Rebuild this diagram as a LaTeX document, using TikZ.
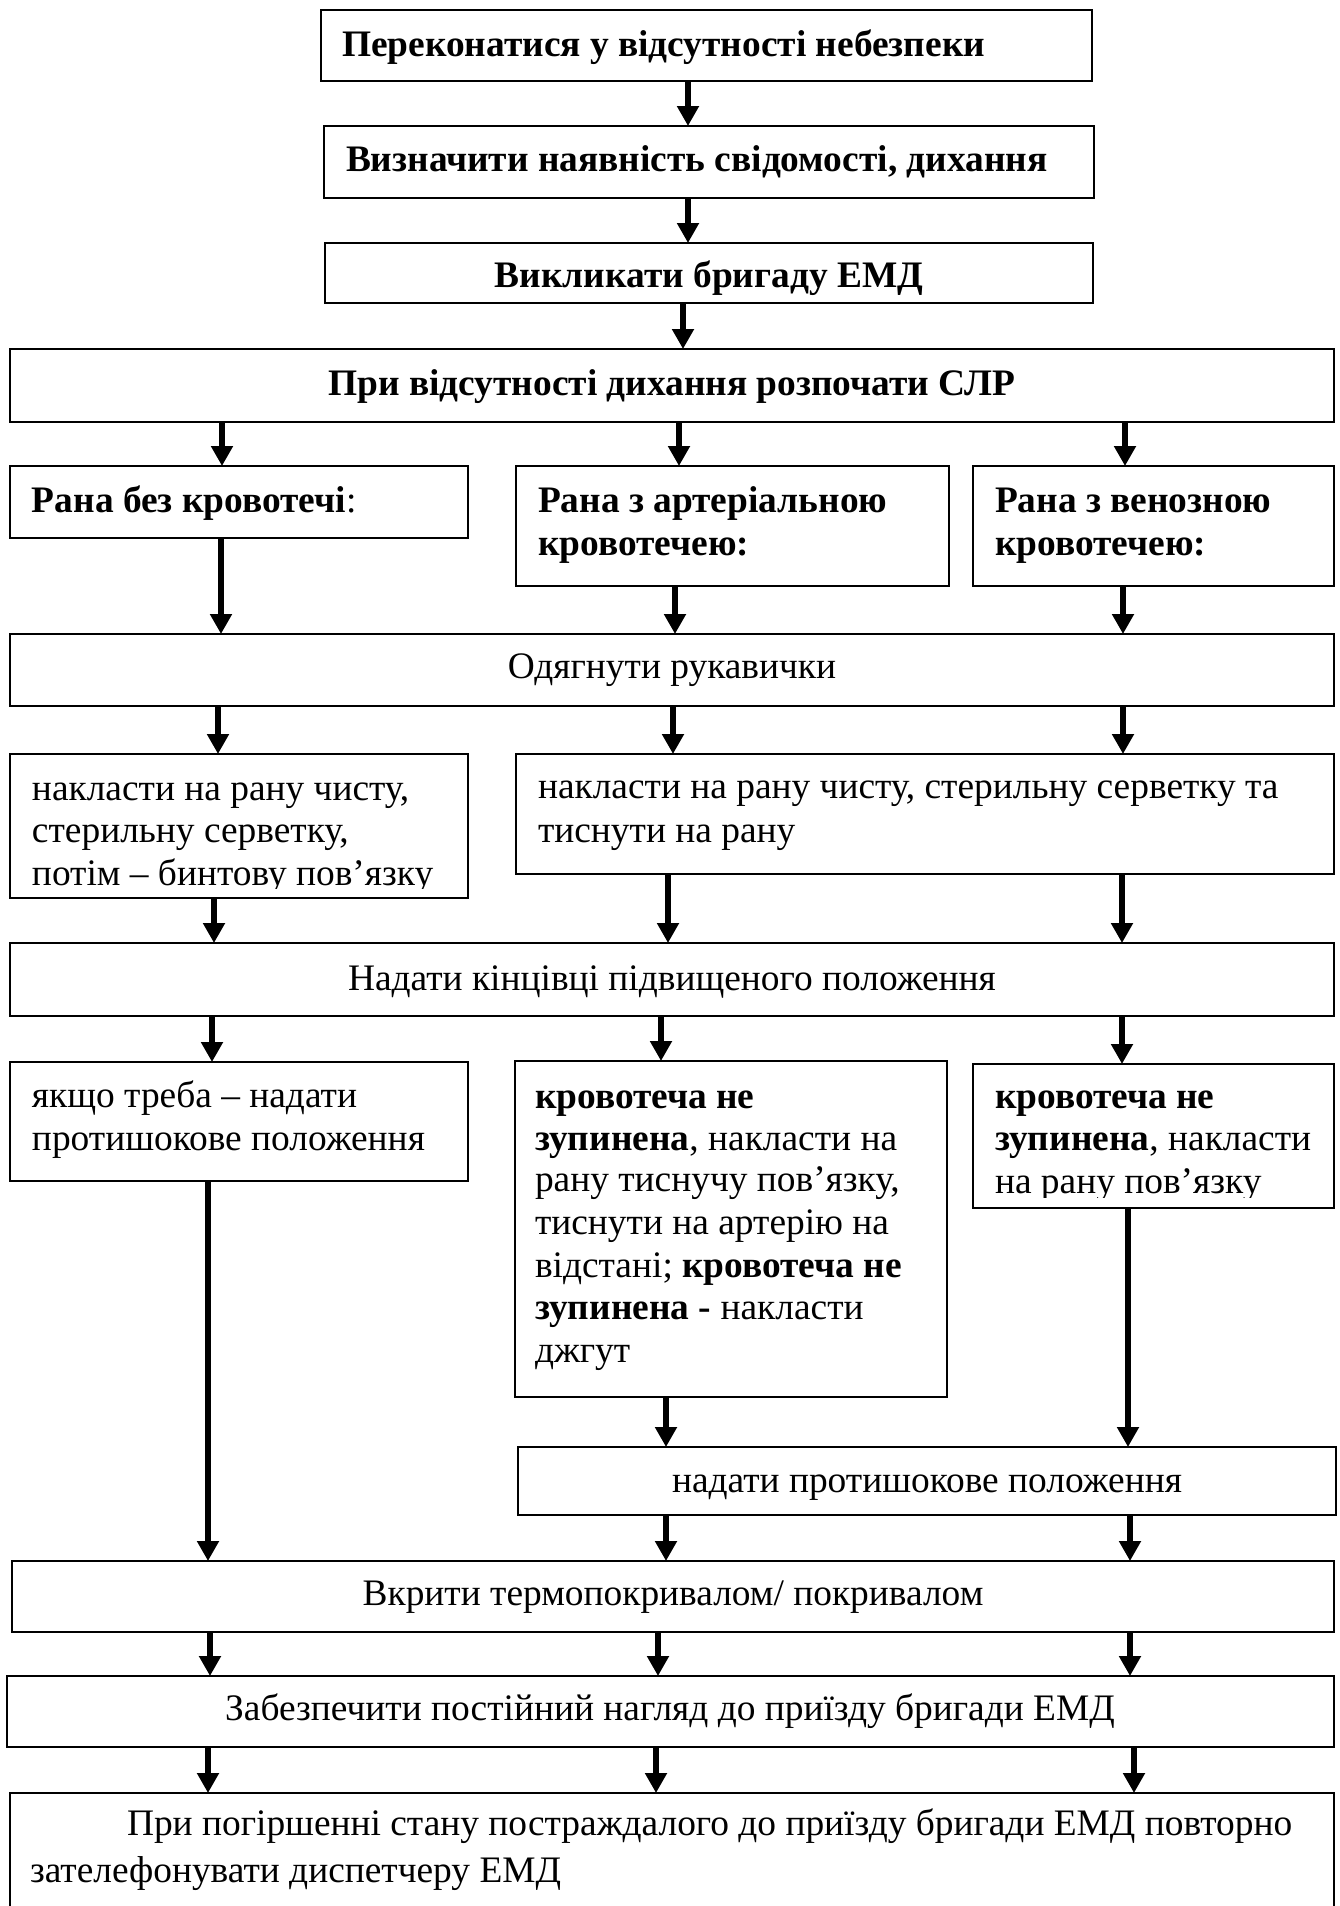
\documentclass[tikz,border=0pt]{standalone}
\usepackage{fontspec}
\setmainfont{Liberation Serif}
\usetikzlibrary{arrows.meta}
\newcommand\fsz{\fontsize{18.7pt}{22pt}\selectfont}
\tikzset{
  box/.style={draw, line width=1pt, inner sep=0pt, outer sep=0pt, anchor=north west},
  arr/.style={line width=3pt, -{Triangle[length=10pt,width=10.5pt]}},
  tl/.style={anchor=base west, inner sep=0pt, outer sep=0pt, font=\fsz},
  tc/.style={anchor=base, inner sep=0pt, outer sep=0pt, font=\fsz},
}
\newcommand\bx[5]{\node[box, minimum width={(#4-#2)*0.5pt}, minimum height={(#5-#3)*0.5pt}] (#1) at (#2,#3) {};}
\newcommand\ar[3]{\draw[arr] (#3,0 |- #1.south) -- (#3,0 |- #2.north);}
\begin{document}
\begin{tikzpicture}[x=0.5pt,y=-0.5pt]
\useasboundingbox (0,0) rectangle (1339,1906);
\clip (0,0) rectangle (1339,1906);
% boxes
\bx{b1}{321}{10}{1092}{81}
\bx{b2}{324}{126}{1094}{198}
\bx{b3}{325}{243}{1093}{303}
\bx{b4}{10}{349}{1334}{422}
\bx{b5a}{10}{466}{468}{538}
\bx{b5b}{516}{466}{949}{586}
\bx{b5c}{973}{466}{1334}{586}
\bx{b6}{10}{634}{1334}{706}
\bx{b7a}{10}{754}{468}{898}
\bx{b7b}{516}{754}{1334}{874}
\bx{b8}{10}{943}{1334}{1016}
\bx{b9a}{10}{1062}{468}{1181}
\bx{b9b}{515}{1061}{947}{1397}
\bx{b9c}{973}{1064}{1334}{1208}
\bx{b10}{518}{1447}{1336}{1515}
\bx{b11}{12}{1561}{1334}{1632}
\bx{b12}{7}{1676}{1334}{1747}
\bx{b13}{10}{1793}{1334}{1930}
% texts
\node[tl] (t1) at (342,56) {\textbf{Переконатися у відсутності небезпеки}};
\node[tl] (t2) at (346,171) {\textbf{Визначити наявність свідомості, дихання}};
\node[tc] (t3) at (709,287) {\textbf{Викликати бригаду ЕМД}};
\node[tc] (t4) at (672,395) {\textbf{При відсутності дихання розпочати СЛР}};
\node[tl] (t5a) at (32,512) {\textbf{Рана без кровотечі}:};
\node[tl] (t5b1) at (538,512) {\textbf{Рана з артеріальною}};
\node[tl] (t5b2) at (538,555) {\textbf{кровотечею:}};
\node[tl] (t5c1) at (995,512) {\textbf{Рана з венозною}};
\node[tl] (t5c2) at (995,555) {\textbf{кровотечею:}};
\node[tc] (t6) at (672,678) {Одягнути рукавички};
\begin{scope}
\clip (0,754) rectangle (468,888);
\node[tl] (t7a1) at (32,800) {накласти на рану чисту,};
\node[tl] (t7a2) at (32,842) {стерильну серветку,};
\node[tl] (t7a3) at (32,885) {потім – бинтову пов’язку};
\end{scope}
\node[tl] (t7b1) at (538,798) {накласти на рану чисту, стерильну серветку та};
\node[tl] (t7b2) at (538,842) {тиснути на рану};
\node[tc] (t8) at (672,990) {Надати кінцівці підвищеного положення};
\node[tl] (t9a1) at (32,1107) {якщо треба – надати};
\node[tl] (t9a2) at (32,1150) {протишокове положення};
\node[tl] (t9b1) at (535,1108) {\textbf{кровотеча не}};
\node[tl] (t9b2) at (535,1150) {\textbf{зупинена}, накласти на};
\node[tl] (t9b3) at (535,1191) {рану тиснучу пов’язку,};
\node[tl] (t9b4) at (535,1234) {тиснути на артерію на};
\node[tl] (t9b5) at (535,1277) {відстані; \textbf{кровотеча не}};
\node[tl] (t9b6) at (535,1319) {\textbf{зупинена -} накласти};
\node[tl] (t9b7) at (535,1362) {джгут};
\node[tl] (t9c1) at (995,1108) {\textbf{кровотеча не}};
\node[tl] (t9c2) at (995,1150) {\textbf{зупинена}, накласти};
\begin{scope}
\clip (973,1064) rectangle (1334,1197);
\node[tl] (t9c3) at (995,1193) {на рану пов’язку};
\end{scope}
\node[tc] (t10) at (927,1492) {надати протишокове положення};
\node[tc] (t11) at (673,1605) {Вкрити термопокривалом/ покривалом};
\node[tc] (t12) at (670,1720) {Забезпечити постійний нагляд до приїзду бригади ЕМД};
\node[tl] (t13a) at (127,1835) {При погіршенні стану постраждалого до приїзду бригади ЕМД повторно};
\node[tl] (t13b) at (30,1882) {зателефонувати диспетчеру ЕМД};
% arrows
\ar{b1}{b2}{688}
\ar{b2}{b3}{688}
\ar{b3}{b4}{683}
\ar{b4}{b5a}{222}
\ar{b4}{b5b}{679}
\ar{b4}{b5c}{1125}
\ar{b5a}{b6}{221}
\ar{b5b}{b6}{675}
\ar{b5c}{b6}{1123}
\ar{b6}{b7a}{218}
\ar{b6}{b7b}{673}
\ar{b6}{b7b}{1123}
\ar{b7a}{b8}{214}
\ar{b7b}{b8}{668}
\ar{b7b}{b8}{1122}
\ar{b8}{b9a}{212}
\ar{b8}{b9b}{661}
\ar{b8}{b9c}{1122}
\ar{b9a}{b11}{208}
\ar{b9b}{b10}{666}
\ar{b9c}{b10}{1128}
\ar{b10}{b11}{666}
\ar{b10}{b11}{1130}
\ar{b11}{b12}{210}
\ar{b11}{b12}{658}
\ar{b11}{b12}{1130}
\ar{b12}{b13}{208}
\ar{b12}{b13}{656}
\ar{b12}{b13}{1134}
\end{tikzpicture}
\end{document}
